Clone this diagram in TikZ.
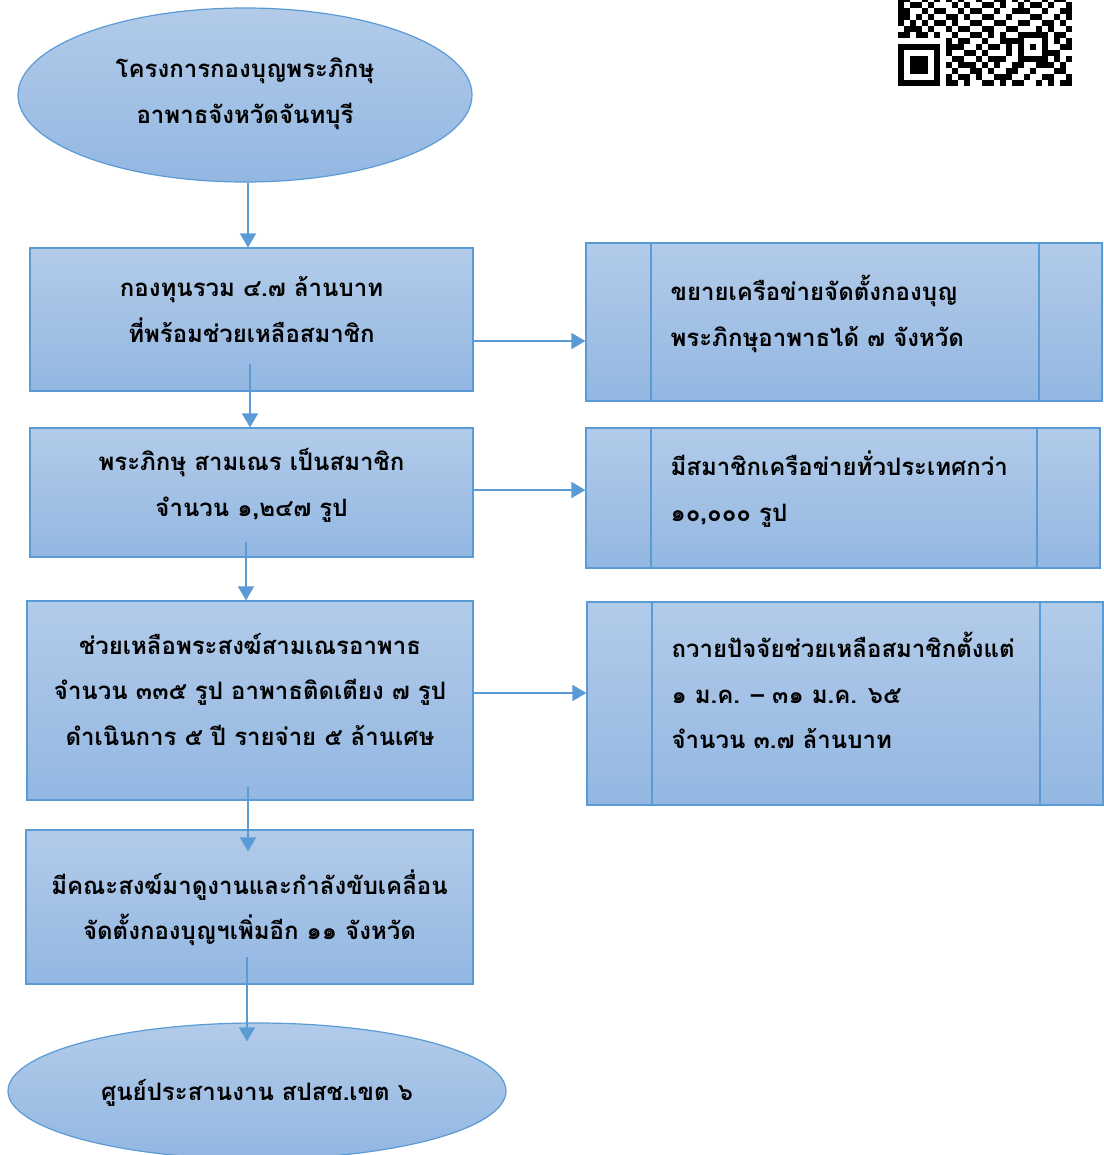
\documentclass[tikz,border=0pt]{standalone}
\usepackage{fontspec}
\newfontfamily\thai[Script=Thai]{Loma}
\usetikzlibrary{shapes.geometric,arrows.meta,calc}
\definecolor{bord}{HTML}{5B9BD5}
\definecolor{topc}{HTML}{B2CBE9}
\definecolor{botc}{HTML}{93B7E2}
\newcommand\qrrow[2]{\foreach \c in {#2} \fill[black] (898+6*\c,80-6*#1) rectangle ++(6.3,6.3);}
\tikzset{
  shadebox/.style={draw=bord, line width=1.2pt, top color=topc, bottom color=botc},
  thaitext/.style={font=\thai\bfseries\fontsize{24}{45.5}\selectfont, text=black, inner sep=0pt},
  maintext/.style={thaitext, align=center},
  mainbox/.style={shadebox, rectangle, inner sep=0pt},
  ovalbox/.style={shadebox, ellipse, inner sep=0pt},
  procbox/.style={shadebox, rectangle, inner sep=0pt,
    path picture={\draw[bord, line width=1.2pt]
      ([xshift=65pt]path picture bounding box.north west) -- ([xshift=65pt]path picture bounding box.south west)
      ([xshift=-63pt]path picture bounding box.north east) -- ([xshift=-63pt]path picture bounding box.south east);}},
  proctext/.style={thaitext, align=left, anchor=west},
  arr/.style={draw=bord, line width=1.5pt, -{Triangle[width=16pt,length=14pt]}}
}
\begin{document}
\begin{tikzpicture}[x=1pt,y=-1pt]
\useasboundingbox (0,0) rectangle (1103,1155);
\fill[white] (0,0) rectangle (1103,1155);
% shapes
\node[ovalbox, minimum width=454pt, minimum height=174pt] (e1) at (245,95) {};
\node[mainbox, minimum width=443pt, minimum height=143pt] (b1) at (251.5,319.5) {};
\node[mainbox, minimum width=443pt, minimum height=129pt] (b2) at (251.5,492.5) {};
\node[mainbox, minimum width=446pt, minimum height=199pt] (b3) at (250,700.5) {};
\node[mainbox, minimum width=447pt, minimum height=154pt] (b4) at (249.5,907) {};
\node[ovalbox, minimum width=498pt, minimum height=136pt] (e2) at (257,1091) {};
\node[procbox, minimum width=516pt, minimum height=158pt] (r1) at (844,322) {};
\node[procbox, minimum width=514pt, minimum height=140pt] (r2) at (843,498) {};
\node[procbox, minimum width=516pt, minimum height=203pt] (r3) at (845,703.5) {};
% texts
\node[maintext] (e1t) at ([yshift=1pt]e1.center) {โครงการกองบุญพระภิกษุ\\อาพาธจังหวัดจันทบุรี};
\node[maintext] (b1t) at ([yshift=10pt]b1.center) {กองทุนรวม ๔.๗ ล้านบาท\\ที่พร้อมช่วยเหลือสมาชิก};
\node[maintext] (b2t) at ([yshift=7pt]b2.center) {พระภิกษุ สามเณร เป็นสมาชิก\\จำนวน ๑,๒๔๗ รูป};
\node[maintext] (b3t) at ([yshift=11pt]b3.center) {ช่วยเหลือพระสงฆ์สามเณรอาพาธ\\จำนวน ๓๓๕ รูป อาพาธติดเตียง ๗ รูป\\ดำเนินการ ๕ ปี รายจ่าย ๕ ล้านเศษ};
\node[maintext] (b4t) at ([yshift=-1pt]b4.center) {มีคณะสงฆ์มาดูงานและกำลังขับเคลื่อน\\จัดตั้งกองบุญฯเพิ่มอีก ๑๑ จังหวัด};
\node[maintext] (e2t) at ([yshift=-2pt]e2.center) {ศูนย์ประสานงาน สปสช.เขต ๖};
\node[proctext] (r1t) at ([xshift=85pt,yshift=8pt]r1.west) {ขยายเครือข่ายจัดตั้งกองบุญ\\พระภิกษุอาพาธได้ ๗ จังหวัด};
\node[proctext] (r2t) at ([xshift=85pt,yshift=9pt]r2.west) {มีสมาชิกเครือข่ายทั่วประเทศกว่า\\๑๐,๐๐๐ รูป};
\node[proctext] (r3t) at ([xshift=85pt,yshift=13pt]r3.west) {ถวายปัจจัยช่วยเหลือสมาชิกตั้งแต่\\๑ ม.ค. – ๓๑ ม.ค. ๖๕\\จำนวน ๓.๗ ล้านบาท};
% connectors
\draw[arr] ([xshift=3pt]e1.south) -- ([xshift=-3.5pt]b1.north);
\draw[arr] ([xshift=-1.5pt,yshift=28pt]b1.south) -- ([xshift=-1.5pt]b2.north);
\draw[arr] ([xshift=-5.5pt,yshift=16pt]b2.south) -- ([xshift=-4pt]b3.north);
\draw[arr] ([xshift=-2pt,yshift=14pt]b3.south) -- ([xshift=-1.5pt,yshift=-22pt]b4.north);
\draw[arr] ([xshift=-2.5pt,yshift=28pt]b4.south) -- ([xshift=-10pt,yshift=-19pt]e2.north);
\draw[arr] ([yshift=-21.5pt]b1.east) -- ([yshift=-21.5pt]b1.east -| r1.west);
\draw[arr] ([yshift=2.5pt]b2.east) -- ([yshift=2.5pt]b2.east -| r2.west);
\draw[arr] ([yshift=7.5pt]b3.east) -- ([yshift=7.5pt]b3.east -| r3.west);
% QR code (partial, clipped at the top)
\begin{scope}
\clip (0,0) rectangle (1103,1155);
\qrrow{0}{0,1,2,3,4,5,6,8,9,11,14,15,17,19,20,23,25,27,28}
\qrrow{1}{0,6,8,10,11,13,16,17,18,21,24,25,28}
\qrrow{2}{0,2,3,4,6,9,12,13,15,18,19,22,26,27}
\qrrow{3}{0,2,3,4,6,8,10,11,12,14,16,19,20,23,24,25,27}
\qrrow{4}{0,2,3,4,6,9,10,13,15,16,17,20,21,22,23,24,26,28}
\qrrow{5}{0,6,8,11,12,14,18,20,24,25,26}
\qrrow{6}{0,1,2,3,4,5,6,8,9,10,13,15,16,18,20,22,24,27,28}
\qrrow{7}{8,10,11,14,17,18,19,20,24,26,28}
\qrrow{8}{0,1,3,4,6,9,12,13,15,17,20,21,22,23,24,26,27}
\qrrow{9}{1,2,3,5,8,10,11,14,15,18,19,23,25,28}
\qrrow{10}{0,2,4,6,7,9,12,13,16,17,20,21,24,25,27}
\qrrow{11}{0,1,3,5,8,9,11,14,15,18,22,23,26,28}
\qrrow{12}{0,1,4,6,7,10,12,13,16,19,20,21,24,27,28}
\qrrow{13}{0,2,3,5,9,11,14,15,17,20,22,23,25,28}
\qrrow{14}{0,1,4,6,8,10,13,16,17,19,21,24,26,27}
\end{scope}
\end{tikzpicture}
\end{document}
